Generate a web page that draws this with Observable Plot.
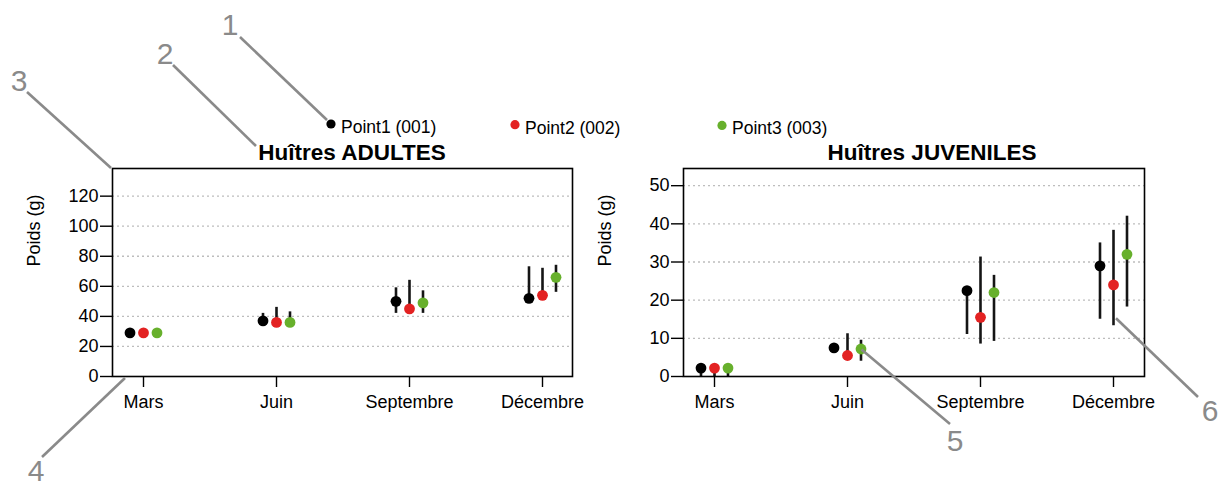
<!DOCTYPE html>
<html>
<head>
<meta charset="utf-8">
<script src="https://cdn.jsdelivr.net/npm/d3@7"></script>
<script src="https://cdn.jsdelivr.net/npm/@observablehq/plot@0.6"></script>
<style>
  body { margin: 0; background: #fff; font-family: "Liberation Sans", Arial, Helvetica, sans-serif; }
  #fig { position: relative; width: 1230px; height: 488px; overflow: hidden; background: #fff; }
  #fig svg.panel { position: absolute; top: 0; }
  #fig svg.overlay { position: absolute; left: 0; top: 0; pointer-events: none; }
</style>
</head>
<body>
<div id="fig"></div>
<script>
// Sampling months and sampling points
const mois = ["Mars", "Juin", "Septembre", "Décembre"];
const points = ["Point1 (001)", "Point2 (002)", "Point3 (003)"];
const couleurs = ["#000000", "#e32222", "#67b02c"];

// Adult oysters: mean weight (g) and error-bar bounds, one row per point
const adultesMoy = [[29, 37, 50, 52], [29, 36, 45, 54], [29, 36, 49, 66]];
const adultesMin = [[29, 35, 42, 52], [29, 36, 45, 54], [29, 36, 42, 56]];
const adultesMax = [[29, 42, 59, 73], [29, 46, 64, 72], [29, 43, 57, 74]];
const adultesTicks = [0, 20, 40, 60, 80, 100, 120];

// Juvenile oysters
const juvenilesMoy = [[2.2, 7.5, 22.5, 29], [2.2, 5.5, 15.5, 24], [2.2, 7.2, 22, 32]];
const juvenilesMin = [[0, 6.5, 11, 15], [0, 4.4, 8.5, 13.3], [0, 4, 9.2, 18.2]];
const juvenilesMax = [[2.2, 8.5, 22.5, 35], [2.2, 11.2, 31.3, 38.3], [2.2, 9.5, 26.5, 42]];
const juvenilesTicks = [0, 10, 20, 30, 40, 50];

const titres = ["Huîtres ADULTES", "Huîtres JUVENILES"];
const yLabel = "Poids (g)";

const FONT = "'Liberation Sans', Arial, Helvetica, sans-serif";
const offsets = [-13.5, 0, 13.5]; // side-by-side placement of the three points within a month

function panel({moy, min, max, ticks, yMax, width, marginLeft, marginRight}) {
  const rows = points.flatMap((p, s) => mois.map((m, j) => ({
    mois: m, serie: s, moy: moy[s][j], min: min[s][j], max: max[s][j]
  })));
  const marks = [
    Plot.gridY(ticks.filter(t => t > 0), {stroke: "#bdbdbd", strokeOpacity: 1, strokeWidth: 1.3, strokeDasharray: "2,3"})
  ];
  points.forEach((p, s) => {
    marks.push(Plot.ruleX(rows.filter(r => r.serie === s), {
      x: "mois", y1: "min", y2: "max", dx: offsets[s], stroke: "#151515", strokeWidth: 2.6
    }));
  });
  points.forEach((p, s) => {
    marks.push(Plot.dot(rows.filter(r => r.serie === s), {
      x: "mois", y: "moy", dx: offsets[s], r: 5.4, fill: couleurs[s], stroke: "none"
    }));
  });
  marks.push(Plot.axisY(ticks, {tickSize: 12, tickPadding: 2, fontSize: 18, label: null, strokeWidth: 1.4}));
  marks.push(Plot.axisX({tickSize: 11, tickPadding: 8, fontSize: 18, label: null, strokeWidth: 1.4}));
  marks.push(Plot.text([yLabel], {text: d => d, frameAnchor: "left", dx: -78, dy: -6, rotate: -90, fontSize: 18}));
  marks.push(Plot.frame({stroke: "#000", strokeWidth: 1.6}));
  return Plot.plot({
    width, height: 488,
    marginTop: 168, marginBottom: 112, marginLeft, marginRight,
    x: {type: "point", domain: mois, padding: 0.225},
    y: {domain: [0, yMax]},
    style: {fontFamily: FONT, color: "#000", background: "transparent", overflow: "visible"},
    marks
  });
}

const fig = document.getElementById("fig");

const gauche = panel({moy: adultesMoy, min: adultesMin, max: adultesMax, ticks: adultesTicks,
  yMax: 138.4, width: 600, marginLeft: 112, marginRight: 28});
const droite = panel({moy: juvenilesMoy, min: juvenilesMin, max: juvenilesMax, ticks: juvenilesTicks,
  yMax: 54.5, width: 630, marginLeft: 83, marginRight: 86});
gauche.classList.add("panel"); gauche.style.left = "0px";
droite.classList.add("panel"); droite.style.left = "600px";
fig.append(gauche, droite);

// Overlay: legend, panel titles and numbered callouts
const svg = d3.select(fig).append("svg").attr("class", "overlay")
  .attr("width", 1230).attr("height", 488).style("font-family", FONT);

const legendX = [331, 515, 722];
points.forEach((p, s) => {
  svg.append("circle").attr("cx", legendX[s]).attr("cy", 124 + s * 0.7).attr("r", 4.6).attr("fill", couleurs[s]);
  svg.append("text").attr("x", legendX[s] + 10).attr("y", 133 + s * 0.7)
    .attr("font-size", 17.5).attr("fill", "#000").text(p);
});

[[352, titres[0]], [932, titres[1]]].forEach(([x, t]) => {
  svg.append("text").attr("x", x).attr("y", 160).attr("text-anchor", "middle")
    .attr("font-size", 22.5).attr("font-weight", "bold").attr("fill", "#000").text(t);
});

// Data-anchored callout ends in the juvenile panel
const jx = droite.scale("x"), jy = droite.scale("y");
const p5 = [600 + jx.apply("Juin") + offsets[2], jy.apply(juvenilesMoy[2][1])];
const p6 = [600 + jx.apply("Décembre") + offsets[1] + 3, jy.apply(juvenilesMin[1][3]) - 7];

const callouts = [
  {n: "1", tx: 230, ty: 35, line: [[240, 37], [327, 120]]},
  {n: "2", tx: 165, ty: 64, line: [[173, 65], [256, 146]]},
  {n: "3", tx: 19, ty: 91, line: [[27, 92], [111, 168]]},
  {n: "4", tx: 36, ty: 481, line: [[42, 457], [125, 378]]},
  {n: "5", tx: 955, ty: 451, line: [[950, 424], [p5[0] + 1, p5[1] + 1]]},
  {n: "6", tx: 1210, ty: 421, line: [[1198, 397], p6]}
];
callouts.forEach(c => {
  svg.append("line").attr("x1", c.line[0][0]).attr("y1", c.line[0][1])
    .attr("x2", c.line[1][0]).attr("y2", c.line[1][1])
    .attr("stroke", "#8a8a8a").attr("stroke-width", 2.6);
  svg.append("text").attr("x", c.tx).attr("y", c.ty).attr("text-anchor", "middle")
    .attr("font-size", 30).attr("fill", "#8a8a8a").text(c.n);
});
</script>
</body>
</html>
